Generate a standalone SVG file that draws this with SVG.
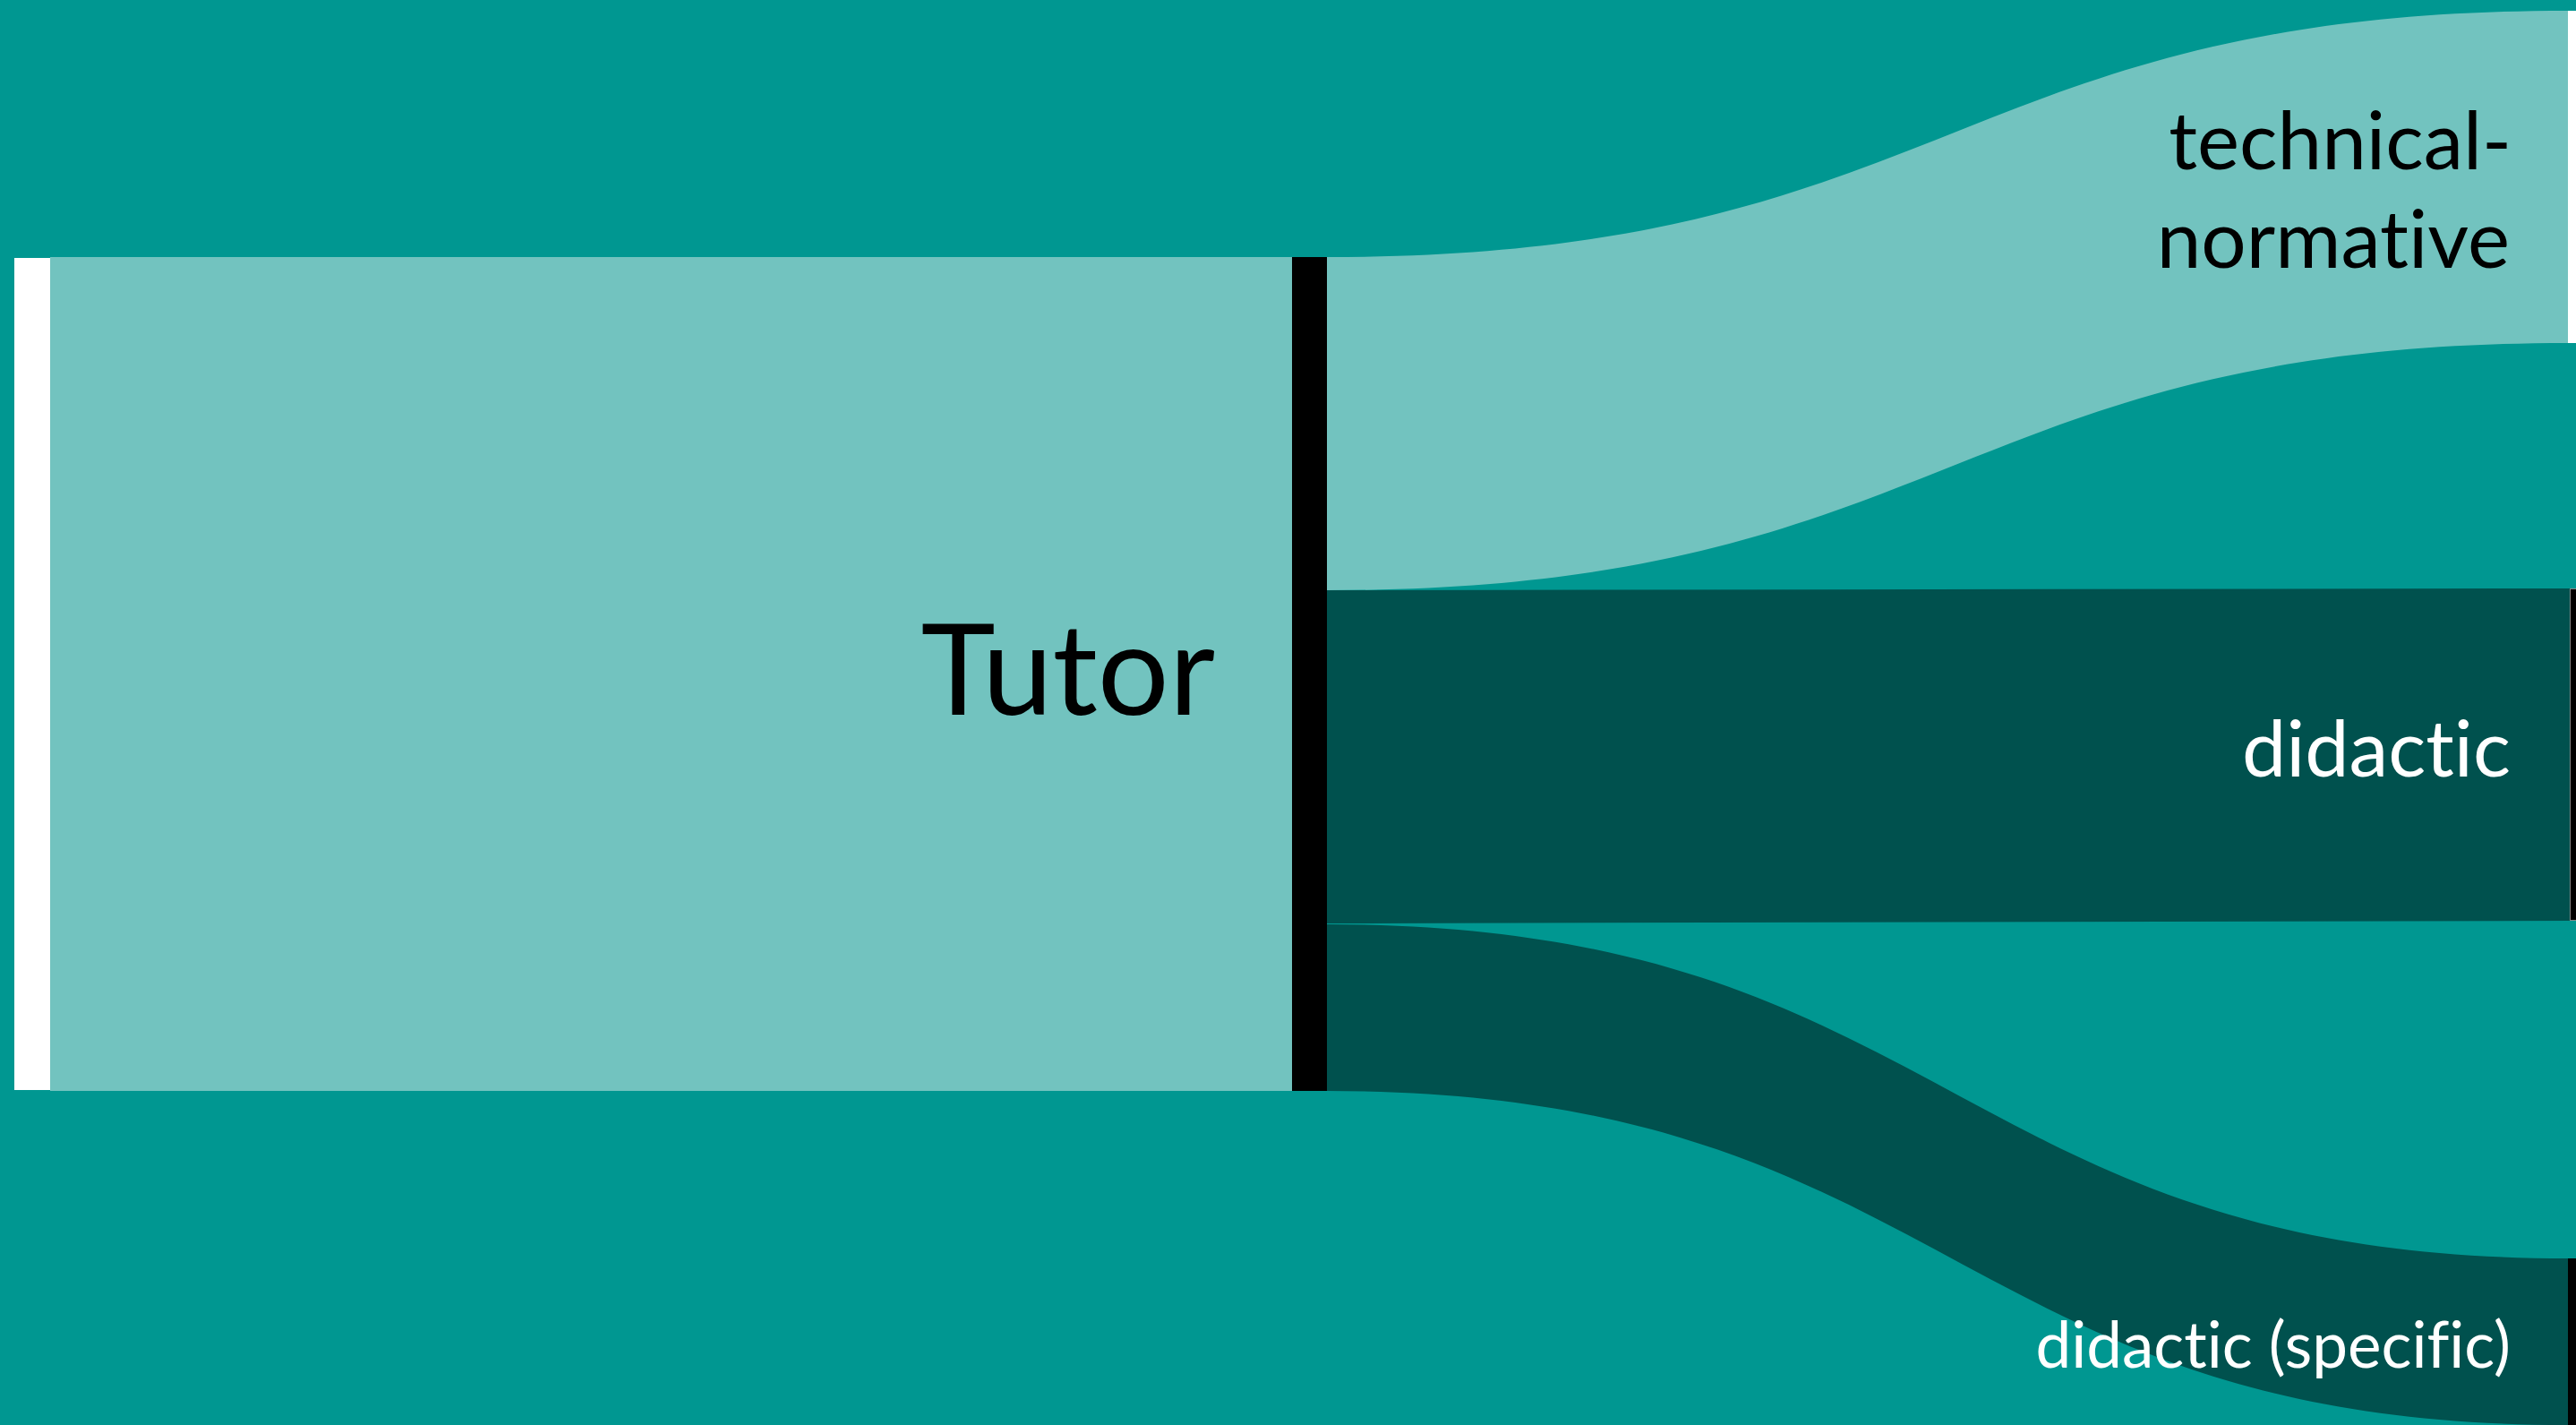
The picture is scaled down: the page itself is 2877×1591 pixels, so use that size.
<svg xmlns="http://www.w3.org/2000/svg" width="2877" height="1591" viewBox="0 0 2877 1591">
<style>
.lbl{font-family:Lato,"Open Sans",sans-serif;text-anchor:end;font-variant-ligatures:none;font-feature-settings:"liga" 0}
.dark{fill:#000000}
.light{fill:#ffffff}
</style>
<rect x="0" y="0" width="2877" height="1591" fill="#009791"/>
<g id="connectors">
<path id="link-source-tutor" d="M56,287 H1443 V1218 H56 Z" fill="#72C3BF"/>
<path id="link-tutor-technical" d="M1482,287 C2180,287 2180,12 2868,12 L2868,383 C2180,383 2180,659 1482,659 Z" fill="#72C3BF"/>
<path id="link-tutor-didactic" d="M1482,659 L2870,657 L2870,1028 L1482,1031 Z" fill="#00514E"/>
<path id="link-tutor-specific" d="M1482,1032 C2180,1032 2180,1405 2868,1405 L2868,1591 C2180,1591 2180,1218 1482,1218 Z" fill="#00514E"/>
</g>
<g id="node-source"><rect x="16" y="288" width="40" height="929" fill="#ffffff"/></g>
<g id="node-tutor"><rect x="1443" y="287" width="39" height="931" fill="#000000"/>
<text class="lbl dark" x="1357" y="798" font-size="141">Tutor</text></g>
<g id="node-technical"><rect x="2868" y="12" width="9" height="371" fill="#ffffff"/>
<text class="lbl dark" x="2805" y="189" font-size="89">technical-</text>
<text class="lbl dark" x="2803" y="299" font-size="89">normative</text></g>
<g id="node-didactic"><rect x="2870.5" y="657.5" width="8" height="370" fill="#000000" stroke="#888888" stroke-width="1"/>
<text class="lbl light" x="2804" y="867" font-size="88">didactic</text></g>
<g id="node-specific"><rect x="2868" y="1405" width="9" height="186" fill="#000000"/>
<text class="lbl light" x="2804" y="1527" font-size="71">didactic (specific)</text></g>
</svg>
